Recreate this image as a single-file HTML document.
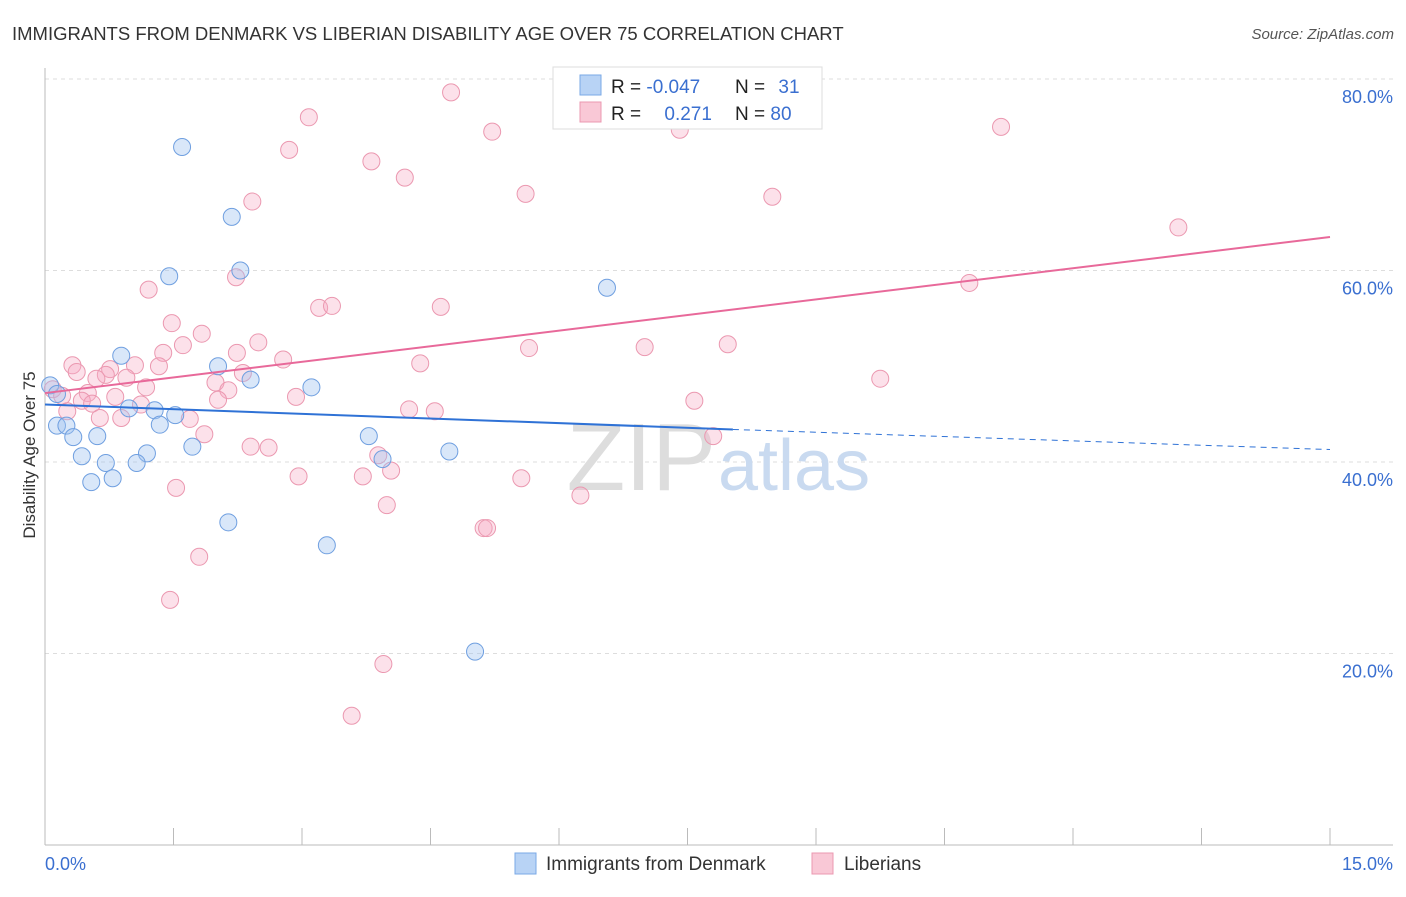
<!DOCTYPE html>
<html><head><meta charset="utf-8"><style>
body{margin:0;background:#fff;font-family:"Liberation Sans",sans-serif;}
svg text{font-family:"Liberation Sans",sans-serif;}
</style></head><body>
<svg width="1406" height="892" xmlns="http://www.w3.org/2000/svg" id="chart">
<text x="12" y="40" font-size="18.5" fill="#333">IMMIGRANTS FROM DENMARK VS LIBERIAN DISABILITY AGE OVER 75 CORRELATION CHART</text>
<text x="1394" y="39" font-size="15" fill="#555" font-style="italic" text-anchor="end">Source: ZipAtlas.com</text>
<text x="35" y="455" font-size="17" fill="#333" text-anchor="middle" transform="rotate(-90 35 455)">Disability Age Over 75</text>
<g id="grid"></g>
<text x="716" y="490" font-size="96" fill="#ddd" text-anchor="end" font-family="Liberation Serif">ZIP</text>
<text x="718" y="490" font-size="72" fill="#c9daf0">atlas</text>
<g id="marks"></g>
<g>
<rect x="553" y="67" width="269" height="62" fill="#fff" stroke="#ddd"/>
<rect x="580" y="75" width="21" height="20" fill="#b8d3f5" stroke="#7aa8e6"/>
<rect x="580" y="102" width="21" height="20" fill="#f9c8d6" stroke="#eb98b0"/>
<text x="611" y="93" font-size="19" fill="#222">R = <tspan fill="#3a6fd0">-0.047</tspan></text>
<text x="735" y="93" font-size="19" fill="#222">N = <tspan fill="#3a6fd0" dx="8">31</tspan></text>
<text x="611" y="120" font-size="19" fill="#222">R = <tspan fill="#3a6fd0" dx="18">0.271</tspan></text>
<text x="735" y="120" font-size="19" fill="#222">N = <tspan fill="#3a6fd0">80</tspan></text>
</g>
<g>
<rect x="515" y="853" width="21" height="21" fill="#b8d3f5" stroke="#7aa8e6"/>
<text x="546" y="870" font-size="19" fill="#333">Immigrants from Denmark</text>
<rect x="812" y="853" width="21" height="21" fill="#f9c8d6" stroke="#eb98b0"/>
<text x="844" y="870" font-size="19" fill="#333">Liberians</text>
</g>
<text x="45" y="870" font-size="18" fill="#3a6fd0">0.0%</text>
<text x="1393" y="870" font-size="18" fill="#3a6fd0" text-anchor="end">15.0%</text>
</svg>
<script>
const yTicks=[20,40,60,80];
const yTickLabels=["20.0%","40.0%","60.0%","80.0%"];
const denmarkX=[1.60,2.18,2.28,1.45,6.56,0.89,2.02,2.40,3.11,0.06,0.14,0.98,1.28,1.52,0.14,0.25,1.34,0.33,0.61,3.78,1.72,4.72,1.19,0.43,3.94,0.71,1.07,0.79,0.54,2.14,3.29,5.02];
const denmarkY=[72.9,65.6,60.0,59.4,58.2,51.1,50.0,48.6,47.8,48.0,47.1,45.6,45.4,44.9,43.8,43.8,43.9,42.6,42.7,42.7,41.6,41.1,40.9,40.6,40.3,39.9,39.9,38.3,37.9,33.7,31.3,20.2];
const liberX=[4.74,3.08,5.22,7.41,11.16,2.85,3.81,4.20,5.61,8.49,2.42,13.23,2.23,10.79,1.21,3.20,3.35,4.62,1.48,1.83,1.61,2.49,5.65,7.00,7.97,1.38,2.24,2.78,4.38,0.32,1.05,1.33,0.76,0.37,0.71,2.31,0.95,0.60,9.75,1.99,1.18,2.14,0.09,0.50,0.20,0.82,2.93,0.43,2.02,0.55,1.12,7.58,4.25,4.55,0.26,0.64,0.89,1.69,1.86,7.80,2.40,2.61,3.89,4.04,2.96,3.71,5.56,1.53,6.25,3.99,5.12,5.16,1.80,1.46,3.95,3.58];
const liberY=[78.6,76.0,74.5,74.7,75.0,72.6,71.4,69.7,68.0,67.7,67.2,64.5,59.3,58.7,58.0,56.1,56.3,56.2,54.5,53.4,52.2,52.5,51.9,52.0,52.3,51.4,51.4,50.7,50.3,50.1,50.1,50.0,49.7,49.4,49.1,49.3,48.8,48.7,48.7,48.3,47.8,47.5,47.6,47.2,46.9,46.8,46.8,46.4,46.5,46.1,46.0,46.4,45.5,45.3,45.3,44.6,44.6,44.5,42.9,42.7,41.6,41.5,40.7,39.1,38.5,38.5,38.3,37.3,36.5,35.5,33.1,33.1,30.1,25.6,18.9,13.5];
const denmarkTrend=[46.0,43.4,41.3]; // at x=0, 8.03, 15
const liberTrend=[47.2,63.5]; // at x=0, 15
const NS="http://www.w3.org/2000/svg";
const X=v=>45+v/15*1285;
const Y=v=>845-v/20*191.5;
const grid=document.getElementById('grid'),marks=document.getElementById('marks');
function mk(tag,attrs,parent){const e=document.createElementNS(NS,tag);for(const k in attrs)e.setAttribute(k,attrs[k]);parent.appendChild(e);return e;}
yTicks.forEach((t,i)=>{
 const l=mk('line',{x1:45,x2:1393,y1:Y(t),y2:Y(t),stroke:'#ddd','stroke-dasharray':'4,4'},grid);
 
 
 const tx=mk('text',{x:1393,y:Y(t)+24,'font-size':18,fill:'#3a6fd0','text-anchor':'end'},grid);
 tx.textContent=yTickLabels[i];
 
 
});
const ax=mk('line',{x1:45,x2:45,y1:68,y2:845,stroke:'#bbb'},grid);


const bx=mk('line',{x1:45,x2:1393,y1:845,y2:845,stroke:'#bbb'},grid);


for(let i=0;i<=10;i++){
 const tk=mk('line',{x1:X(i*1.5),x2:X(i*1.5),y1:828,y2:845,stroke:'#bbb'},grid);
 
 
}
liberX.forEach((v,i)=>{
 const c=mk('circle',{cx:X(v),cy:Y(liberY[i]),r:8.5,fill:'rgba(246,170,195,0.35)',stroke:'#eb98b0','stroke-width':1},marks);
 
 
});
denmarkX.forEach((v,i)=>{
 const c=mk('circle',{cx:X(v),cy:Y(denmarkY[i]),r:8.5,fill:'rgba(160,195,240,0.4)',stroke:'#6f9fe0','stroke-width':1},marks);
 
 
});
const t1=mk('line',{x1:X(0),y1:Y(denmarkTrend[0]),x2:X(8.03),y2:Y(denmarkTrend[1]),stroke:'#2f72d6','stroke-width':2},marks);


const t2=mk('line',{x1:X(8.03),y1:Y(denmarkTrend[1]),x2:X(15),y2:Y(denmarkTrend[2]),stroke:'#2f72d6','stroke-width':1,'stroke-dasharray':'6,5'},marks);


const t3=mk('line',{x1:X(0),y1:Y(liberTrend[0]),x2:X(15),y2:Y(liberTrend[1]),stroke:'#e8699a','stroke-width':2},marks);


</script>
</body></html>
